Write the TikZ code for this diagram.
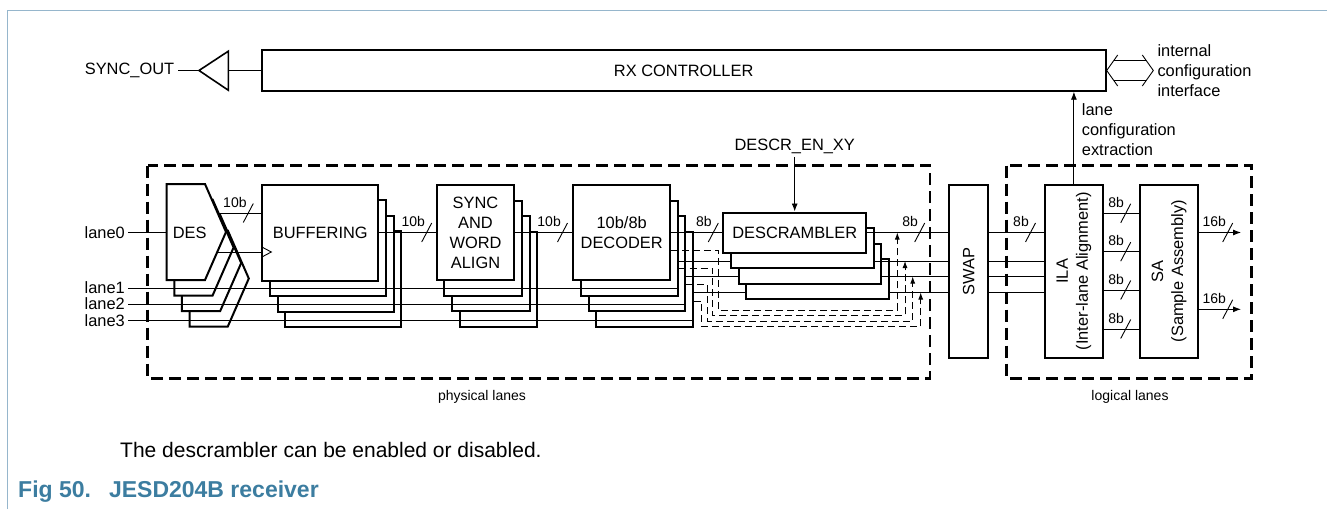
\documentclass[tikz,border=0pt]{standalone}
\usepackage{fontspec}
\setmainfont{Liberation Sans}
\usetikzlibrary{arrows.meta,calc}
\definecolor{pageline}{RGB}{150,182,204}
\definecolor{figblue}{RGB}{60,125,160}

% block with three copies behind it (one per lane)
\newcommand\stacked[6]{%
  \foreach \k in {3,2,1}
    \node[blk, minimum width=#4, minimum height=#5] (#1\k) at (#2+7.6*\k,#3+15.5*\k) {};
  \node[blk, minimum width=#4, minimum height=#5, align=center] (#1) at (#2,#3) {#6};}
% bus width mark
\newcommand\bus[4]{%
  \draw[wire] (#2-5,#3+9.5) -- (#2+5,#3-9.5);
  \node[lbl, anchor=east] (#1) at (#2-1.5,#3-11) {#4};}

\begin{document}
\begin{tikzpicture}[x=1pt, y=-1pt, >={Latex[length=8pt,width=6pt]},
    font=\fontsize{16.4}{20}\selectfont,
    blk/.style={draw, line width=2pt, fill=white, inner sep=0pt},
    wire/.style={line width=0.9pt},
    grp/.style={line width=2.5pt, dash pattern=on 12pt off 6pt},
    byp/.style={line width=0.9pt, dash pattern=on 7pt off 4pt},
    lbl/.style={font=\fontsize{14}{16}\selectfont, inner sep=0pt}]
    \useasboundingbox (0,0) rectangle (1327,509);

    % 1. page frame
    \draw[pageline, line width=1pt] (7.3,509) -- (7.3,10) -- (1327,10);

    % 2. physical / logical lanes
    \draw[grp] (147.7,165.7) rectangle (930,378.3);
    \draw[grp] (1006.7,165.7) rectangle (1251.7,378.3);
    \node[lbl] (physlbl) at (482,397) {physical lanes};
    \node[lbl] (loglbl) at (1130,397) {logical lanes};

    % 3. RX controller and SYNC_OUT driver
    \node[blk, minimum width=844, minimum height=40.4] (rx) at (683.7,70.5) {RX CONTROLLER};
    \node[anchor=east] (syncout) at (177.7,70.5) {SYNC\_OUT};
    \coordinate (drvtip) at (199,70.5);
    \coordinate (drvback) at (228.3,70.5);
    \draw[line width=1.6pt] (drvtip) -- ++(29.3,-19.3) -- ++(0,39) -- cycle;
    \draw[wire] (rx.west) -- (drvback);
    \draw[wire] (drvtip) -- (syncout.east);

    % internal configuration interface
    \node[anchor=west, align=left, inner xsep=4pt, inner ysep=0pt] (icfg) at (1153.3,70.5)
        {internal\\configuration\\interface};
    \draw[wire] (rx.east) ++(11,-15.5) -- (rx.east) -- ++(11,15.5);
    \draw[wire] (icfg.west) ++(-11,-15.5) -- (icfg.west) -- ++(-11,15.5);
    \draw[wire] ($(rx.east)+(7,-10)$) -- ($(icfg.west)+(-7,-10)$);
    \draw[wire] ($(rx.east)+(7,10)$) -- ($(icfg.west)+(-7,10)$);

    % 4. DES (four lanes)
    \foreach \k in {3,2,1,0}
        \draw[blk, shift={(7.6*\k,15.5*\k)}] (166.7,184) -- (205,184) -- (226,232)
            -- (205,280) -- (166.7,280) -- cycle;
    \node (des) at (189.7,232.5) {DES};
    \coordinate (desin) at (166.7,232.5);
    \coordinate (desout) at (217.7,213);
    \coordinate (desclk) at (217.3,252);

    % 5. stacked blocks
    \stacked{buf}{320.3}{232.5}{116}{96}{BUFFERING}
    \stacked{sync}{475.5}{232.5}{77.6}{95}{SYNC\\AND\\WORD\\ALIGN}
    \stacked{dec}{621.7}{232.5}{96.7}{95}{10b/8b\\DECODER}
    \stacked{descr}{794.7}{232.5}{142.7}{40}{DESCRAMBLER}

    % 6. SWAP, ILA, SA
    \node[blk, minimum width=39, minimum height=172.7] (swap) at (968.8,271.3) {\rotatebox{90}{SWAP}};
    \node[blk, minimum width=57.7, minimum height=172.7] (ila) at (1073.9,271.3)
        {\rotatebox{90}{\begin{tabular}{@{}c@{}}ILA\\(Inter-lane Alignment)\end{tabular}}};
    \node[blk, minimum width=58.3, minimum height=172.7] (sa) at (1169.2,271.3)
        {\rotatebox{90}{\begin{tabular}{@{}c@{}}SA\\(Sample Assembly)\end{tabular}}};

    % descrambler enable
    \node (descren) at (794.7,146) {DESCR\_EN\_XY};
    \draw[wire, ->] (descren) -- (descr);

    % 7. lane0 data path
    \node[anchor=east] (lane0) at (128.3,232.5) {lane0};
    \draw[wire] (lane0.east) -- (desin);
    \draw[wire] (desout) -- (buf.west |- desout);
    \draw[wire] (desclk) -- (buf.west |- desclk);
    \draw[wire] (buf.west |- desclk) ++(0,-5.3) -- ++(10,5.3) -- ++(-10,5.3);
    \draw[wire] (buf) -- (sync);
    \draw[wire] (sync) -- (dec);
    \draw[wire] (dec) -- (descr);
    \draw[wire] (descr.east) -- (swap.west |- descr.east);
    \draw[wire] (swap.east |- descr.east) -- (ila.west |- descr.east);
    \bus{w1}{248.3}{213}{10b}
    \bus{w2}{426.7}{232.5}{10b}
    \bus{w3}{562.5}{232.5}{10b}
    \bus{w4}{713.3}{232.5}{8b}
    \bus{w5}{919.7}{232.5}{8b}
    \bus{w6}{1030.5}{232.5}{8b}

    % 8. lanes 1..3
    \node[anchor=east] (lane1) at (128.3,288) {lane1};
    \node[anchor=east] (lane2) at (128.3,304) {lane2};
    \node[anchor=east] (lane3) at (128.3,320.5) {lane3};
    \foreach \k in {1,2,3}
        \draw[wire] (lane\k.east) -- (dec\k.east |- lane\k.east);
    \foreach \k/\y in {1/261,2/276.5,3/292.5} {
        \draw[wire] (dec\k.east |- 0,\y) -- (descr\k.west |- 0,\y);
        \draw[wire] (descr\k.east |- 0,\y) -- (swap.west |- 0,\y);
        \draw[wire] (swap.east |- 0,\y) -- (ila.west |- 0,\y);
    }

    % 9. descrambler bypass
    \foreach \n/\ya/\xa/\yb/\xb/\yc in {dec/250/718.3/310/897.3/232.5,
            dec1/268.5/712.7/315.7/905/261, dec2/284.5/707.3/321/912.7/276.5,
            dec3/301/701.7/326.7/920.7/292.5}
        \draw[byp, -{Latex[length=7pt,width=5pt]}] (\n.east |- 0,\ya) -| (\xa,\yb) -| (\xb,\yc);

    % 10. ILA -> SA -> outputs
    \foreach \y [count=\i] in {213.3,251.7,290,329} {
        \draw[wire] (ila.east |- 0,\y) -- (sa.west |- 0,\y);
        \bus{ls\i}{1125.7}{\y}{8b}
    }
    \coordinate (out1) at (1241,232.5);
    \coordinate (out2) at (1241,309.3);
    \draw[wire, ->] (sa.east |- out1) -- (out1);
    \draw[wire, ->] (sa.east |- out2) -- (out2);
    \bus{o1}{1227.7}{232.5}{16b}
    \bus{o2}{1227.7}{309.3}{16b}

    % 11. lane configuration extraction
    \draw[wire, ->] (ila.north) -- (ila.north |- rx.south);
    \node[anchor=west, align=left, inner sep=0pt] (lcfg) at (1081.7,130)
        {lane\\configuration\\extraction};

    % 12. note and caption
    \node[anchor=base west, inner sep=0pt, font=\fontsize{21}{25}\selectfont] (note)
        at (120,457.5) {The descrambler can be enabled or disabled.};
    \node[anchor=base west, inner sep=0pt, text=figblue, font=\fontsize{23}{28}\selectfont\bfseries] (cap)
        at (18,497) {Fig 50.\hspace{18pt}JESD204B receiver};
\end{tikzpicture}
\end{document}
